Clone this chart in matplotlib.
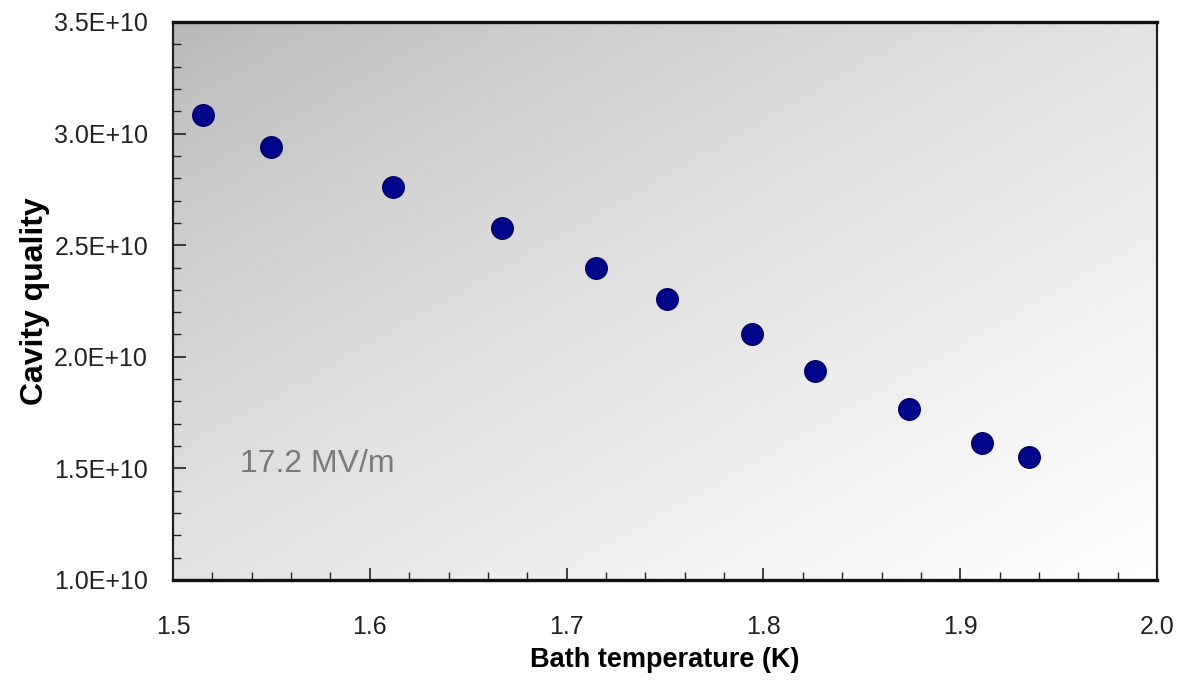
import matplotlib
matplotlib.use("Agg")
import matplotlib.pyplot as plt
import numpy as np
from matplotlib.ticker import MultipleLocator, FuncFormatter

# bath temperature (K) vs cavity quality factor at 17.2 MV/m
temp = [1.515, 1.550, 1.612, 1.667, 1.715, 1.751, 1.794, 1.826, 1.874, 1.911, 1.935]
q0 = [3.083e10, 2.940e10, 2.761e10, 2.577e10, 2.398e10, 2.259e10,
      2.102e10, 1.936e10, 1.766e10, 1.614e10, 1.551e10]
label_text = "17.2 MV/m"

plt.rcParams['font.family'] = ['Liberation Sans', 'DejaVu Sans']

fig = plt.figure(figsize=(11.78, 6.96), dpi=100)
ax = fig.add_axes([0.1469, 0.1667, 0.9822 - 0.1469, 0.9684 - 0.1667])

# diagonal grey -> white background
gx, gy = np.meshgrid(np.linspace(0, 1, 300), np.linspace(0, 1, 200))
shade = 0.71 + 0.29 * ((gx + gy) / 2) ** 0.7
ax.imshow(shade, cmap='gray', vmin=0, vmax=1, extent=[0, 1, 0, 1],
          transform=ax.transAxes, aspect='auto', zorder=0, origin='upper')

ax.plot(temp, q0, 'o', color='#00068a', markeredgecolor='#000060',
        markeredgewidth=1, markersize=15.5, zorder=3)

ax.set_xlim(1.5, 2.0)
ax.set_ylim(1.0e10, 3.5e10)
ax.xaxis.set_major_locator(MultipleLocator(0.1))
ax.xaxis.set_minor_locator(MultipleLocator(0.02))
ax.yaxis.set_major_locator(MultipleLocator(0.5e10))
ax.yaxis.set_minor_locator(MultipleLocator(0.1e10))
ax.xaxis.set_major_formatter(FuncFormatter(lambda v, p: f"{v:.1f}"))
ax.yaxis.set_major_formatter(FuncFormatter(lambda v, p: f"{v:.1E}"))

ax.tick_params(which='both', direction='in', top=False, right=False,
               labelsize=18, labelcolor='#222222', color='#222222')
ax.tick_params(axis='x', which='major', length=9, width=1.2, pad=25)
ax.tick_params(axis='y', which='major', length=9, width=1.2, pad=18)
ax.tick_params(which='minor', length=6, width=1.0)

for side in ['top', 'bottom']:
    ax.spines[side].set_linewidth(2.4)
    ax.spines[side].set_color('#111111')
for side in ['left', 'right']:
    ax.spines[side].set_linewidth(1.6)
    ax.spines[side].set_color('#222222')

ax.set_xlabel('Bath temperature (K)', fontsize=19.5, fontweight='bold', labelpad=6)
ax.set_ylabel('Cavity quality', fontsize=23, fontweight='bold', labelpad=3)

ax.text(1.534, 1.52e10, label_text, fontsize=23, color='#7a7a7a',
        va='center', ha='left', zorder=2)

fig.savefig('out.png', dpi=100)
